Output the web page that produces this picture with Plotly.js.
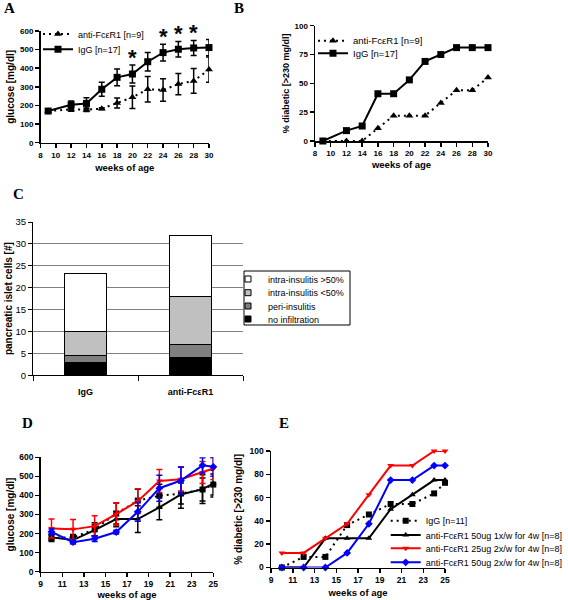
<!DOCTYPE html>
<html><head><meta charset="utf-8">
<script src="https://cdn.plot.ly/plotly-3.0.1.min.js"></script>
<style>html,body{margin:0;padding:0;background:#fff;}#chart{width:568px;height:600px;}</style>
</head><body><div id="chart"></div>
<script>
// ---------- DATA ----------
// Panel A: blood glucose
const weeksA = [9, 12, 14, 16, 18, 20, 22, 24, 26, 28, 30];
const igGGlucoseA = [170, 204, 211, 287, 351, 369, 435, 484, 502, 509, 511];
const igGGlucoseErrA = [0, 20, 30, 38, 45, 48, 50, 45, 42, 40, 44];
const antiGlucoseA = [170, 179, 177, 183, 213, 244, 287, 283, 315, 332, 393];
const antiGlucoseErrA = [0, 10, 10, 5, 27, 60, 68, 60, 57, 66, 68];
const sigWeeksA = [20, 24, 26, 28];
// Panel B: % diabetic
const igGDiabeticB = [0, 9, 13, 41, 41, 53, 69, 75, 81, 81, 81];
const antiDiabeticB = [0, 0, 0, 11, 22, 22, 22, 33, 44, 44, 55];
const seriesNamesAB = ['anti-FcεR1 [n=9]', 'IgG [n=17]'];
// Panel C: islet infiltration
const groupsC = ['IgG', 'anti-FcεR1'];
const noInfiltration = [2.9, 4.0];
const periInsulitis = [1.7, 3.0];
const intraBelow50 = [5.5, 11.0];
const intraAbove50 = [13.2, 14.0];
const stackNamesC = ['no infiltration', 'peri-insulitis', 'intra-insulitis <50%', 'intra-insulitis >50%'];
// Panel D: glucose, dosing study
const weeksD = [10, 12, 14, 16, 18, 20, 22, 24, 25];
const igGGlucoseD = [178, 180, 222, 305, 373, 398, 410, 431, 457];
const igGGlucoseErrD = [20, 15, 35, 55, 60, 60, 55, 60, 55];
const anti50x1GlucoseD = [180, 166, 218, 276, 276, 337, 405, 433, 462];
const anti50x1GlucoseErrD = [15, 15, 30, 40, 70, 65, 72, 75, 70];
const anti25x2GlucoseD = [227, 222, 239, 302, 370, 476, 485, 520, 541];
const anti25x2GlucoseErrD = [50, 52, 54, 60, 65, 60, 65, 58, 58];
const anti50x2GlucoseD = [209, 155, 173, 208, 314, 438, 478, 558, 550];
const anti50x2GlucoseErrD = [15, 10, 15, 10, 50, 68, 70, 40, 49];
// Panel E: % diabetic, dosing study
const igGDiabeticE = [0, 9.1, 9.1, 36.4, 45.5, 54.5, 54.5, 63.6, 72.7];
const anti50x1DiabeticE = [0, 0, 25, 25, 25, 50, 62.5, 75, 75];
const anti25x2DiabeticE = [12.5, 12.5, 25, 37.5, 62.5, 87.5, 87.5, 100, 100];
const anti50x2DiabeticE = [0, 0, 0, 12.5, 37.5, 75, 75, 87.5, 87.5];
const seriesNamesE = ['IgG [n=11]', 'anti-FcεR1 50ug 1x/w for 4w [n=8]', 'anti-FcεR1 25ug 2x/w for 4w [n=8]', 'anti-FcεR1 50ug 2x/w for 4w [n=8]'];

// ---------- HELPERS ----------
const F = 'Liberation Sans, Arial, sans-serif';
const SERIF = 'Liberation Serif, Times New Roman, serif';
const W = 568, H = 600;
const dx = (a, b) => [a / W, b / W];
const dy = (top, bottom) => [1 - bottom / H, 1 - top / H];
const lx = p => p / W, ly = p => 1 - p / H;
const DOT = '2px,4px';
const RED = '#ff0000', BLUE = '#0000ff';

function axis(o) {
  return Object.assign({
    showline: true, linecolor: '#000', linewidth: 1.5, ticks: 'outside', ticklen: 4, tickwidth: 1.5,
    tickcolor: '#000', showgrid: false, zeroline: false, fixedrange: true,
    tickfont: {family: F, size: 8, weight: 'bold', color: '#000'}
  }, o);
}
function ttl(t, standoff, size) {
  return {text: t, standoff: standoff, font: {family: F, size: size || 9.5, weight: 'bold', color: '#000'}};
}
function errs(arr, color) {
  return {type: 'data', array: arr, visible: true, color: color, thickness: 1.5, width: 3};
}
function line(x, y, err, name, color, dash, symbol, xa, ya, legend, msize) {
  const t = {
    type: 'scatter', mode: 'lines+markers', x: x, y: y, name: name,
    line: {color: color, width: 2, dash: dash}, marker: {symbol: symbol, size: msize || 6, color: color},
    xaxis: xa, yaxis: ya, cliponaxis: false, showlegend: !!legend
  };
  if (legend) t.legend = legend;
  if (err) t.error_y = errs(err, color);
  return t;
}
function leg(xp, yp, size) {
  return {x: lx(xp), y: ly(yp), xanchor: 'left', yanchor: 'middle', bgcolor: 'rgba(0,0,0,0)',
          borderwidth: 0, font: {family: F, size: size || 9, color: '#000'}};
}

// ---------- TRACES ----------
const traces = [];
// A
traces.push(line(weeksA, antiGlucoseA, antiGlucoseErrA, seriesNamesAB[0], '#000', DOT, 'triangle-up', 'x', 'y', 'legend', 7));
traces.push(line(weeksA, igGGlucoseA, igGGlucoseErrA, seriesNamesAB[1], '#000', 'solid', 'square', 'x', 'y', 'legend2', 7));
// B
traces.push(line(weeksA, antiDiabeticB, null, seriesNamesAB[0], '#000', DOT, 'triangle-up', 'x2', 'y2', 'legend3', 7));
traces.push(line(weeksA, igGDiabeticB, null, seriesNamesAB[1], '#000', 'solid', 'square', 'x2', 'y2', 'legend4', 7));
// C
const stacksC = [noInfiltration, periInsulitis, intraBelow50, intraAbove50];
const fillsC = ['#000000', '#808080', '#c0c0c0', '#ffffff'];
stacksC.forEach((v, i) => {
  traces.push({type: 'bar', x: groupsC, y: v, width: 0.4, name: stackNamesC[i],
    marker: {color: fillsC[i], line: {color: '#000', width: 1}}, xaxis: 'x3', yaxis: 'y3', showlegend: false});
});
// C legend entries (small square keys)
[3, 2, 1, 0].forEach((i, k) => {
  traces.push({type: 'scatter', mode: 'markers', x: [null], y: [null], name: stackNamesC[i],
    marker: {symbol: 'square', size: 6, color: fillsC[i], line: {color: '#000', width: 1}},
    xaxis: 'x3', yaxis: 'y3', showlegend: true, legend: 'legend' + (5 + k)});
});
// D
traces.push(line(weeksD, igGGlucoseD, igGGlucoseErrD, seriesNamesE[0], '#000', DOT, 'square', 'x4', 'y4', null));
traces.push(line(weeksD, anti50x1GlucoseD, anti50x1GlucoseErrD, seriesNamesE[1], '#000', 'solid', 'triangle-up', 'x4', 'y4', null));
traces.push(line(weeksD, anti25x2GlucoseD, anti25x2GlucoseErrD, seriesNamesE[2], RED, 'solid', 'triangle-down', 'x4', 'y4', null));
traces.push(line(weeksD, anti50x2GlucoseD, anti50x2GlucoseErrD, seriesNamesE[3], BLUE, 'solid', 'diamond', 'x4', 'y4', null));
// E
traces.push(line(weeksD, igGDiabeticE, null, seriesNamesE[0], '#000', DOT, 'square', 'x5', 'y5', 'legend9'));
traces.push(line(weeksD, anti50x1DiabeticE, null, seriesNamesE[1], '#000', 'solid', 'triangle-up', 'x5', 'y5', 'legend10'));
traces.push(line(weeksD, anti25x2DiabeticE, null, seriesNamesE[2], RED, 'solid', 'triangle-down', 'x5', 'y5', 'legend11'));
traces.push(line(weeksD, anti50x2DiabeticE, null, seriesNamesE[3], BLUE, 'solid', 'diamond', 'x5', 'y5', 'legend12'));

// ---------- ANNOTATIONS ----------
const ann = [];
[['A', 9, 8.5], ['B', 238.5, 8], ['C', 18, 194], ['D', 27.5, 422.5], ['E', 284, 422.5]].forEach(p => {
  ann.push({text: p[0], xref: 'paper', yref: 'paper', x: lx(p[1]), y: ly(p[2]), showarrow: false,
    xanchor: 'center', yanchor: 'middle', font: {family: SERIF, size: 15, weight: 'bold', color: '#000'}});
});
sigWeeksA.forEach(w => {
  const i = weeksA.indexOf(w);
  ann.push({text: '*', xref: 'x', yref: 'y', x: w, y: igGGlucoseA[i] + igGGlucoseErrA[i], yshift: 8,
    showarrow: false, xanchor: 'center', yanchor: 'middle', font: {family: F, size: 22, weight: 'bold', color: '#000'}});
});

// ---------- LAYOUT ----------
const layout = {
  width: W, height: H, paper_bgcolor: '#fff', plot_bgcolor: 'rgba(0,0,0,0)',
  margin: {l: 0, r: 0, t: 0, b: 0, autoexpand: false},
  hovermode: false, barmode: 'stack',
  font: {family: F, color: '#000'},
  xaxis: axis({domain: dx(40.5, 209), range: [8, 30], tick0: 8, dtick: 2, anchor: 'y', title: ttl('weeks of age', 5)}),
  yaxis: axis({domain: dy(31, 142.7), range: [0, 600], dtick: 100, anchor: 'x', title: ttl('glucose [mg/dl]', 3, 10)}),
  xaxis2: axis({domain: dx(315, 488), range: [8, 30], tick0: 8, dtick: 2, anchor: 'y2', title: ttl('weeks of age', 4)}),
  yaxis2: axis({domain: dy(25.7, 141), range: [0, 100], dtick: 25, anchor: 'x2', title: ttl('% diabetic [>230 mg/dl]', 3, 9)}),
  xaxis3: {domain: dx(33, 243), type: 'category', range: [-0.5, 1.5], anchor: 'y3', showline: true, linecolor: '#000',
    linewidth: 1, ticks: 'outside', tickson: 'boundaries', ticklen: 5, tickcolor: '#000', tickwidth: 1,
    ticklabelstandoff: 8, showgrid: false, zeroline: false, fixedrange: true,
    tickfont: {family: F, size: 9, weight: 'bold', color: '#000'}},
  yaxis3: {domain: dy(222, 375.3), range: [0, 35], dtick: 5, anchor: 'x3', showline: true, linecolor: '#000',
    linewidth: 1, ticks: 'outside', ticklen: 4, tickcolor: '#000', showgrid: true, gridcolor: '#808080',
    gridwidth: 1, zeroline: false, fixedrange: true, tickfont: {family: F, size: 9.5, color: '#000'},
    title: ttl('pancreatic islet cells [#]', 1, 10)},
  xaxis4: axis({domain: dx(40.7, 213.3), range: [9, 25], tick0: 9, dtick: 2, anchor: 'y4', title: ttl('weeks of age', 3.5),
    tickfont: {family: F, size: 8.5, weight: 'bold', color: '#000'}}),
  yaxis4: axis({domain: dy(457.3, 571.7), range: [0, 600], dtick: 100, anchor: 'x4', title: ttl('glucose [mg/dl]', 3, 10),
    tickfont: {family: F, size: 8.5, weight: 'bold', color: '#000'}}),
  xaxis5: axis({domain: dx(271, 445), range: [9, 25], tick0: 9, dtick: 2, anchor: 'y5', title: ttl('weeks of age', 5),
    tickfont: {family: F, size: 8.5, weight: 'bold', color: '#000'}}),
  yaxis5: axis({domain: dy(451, 567.5), range: [0, 100], dtick: 20, anchor: 'x5', title: ttl('% diabetic [>230 mg/dl]', 5, 10),
    tickfont: {family: F, size: 8.5, weight: 'bold', color: '#000'}}),
  legend: leg(38, 34), legend2: leg(38, 49.3),
  legend3: leg(313, 40.7, 9.5), legend4: leg(313, 53.3, 9.5),
  legend5: leg(228, 279), legend6: leg(228, 292.7), legend7: leg(228, 306), legend8: leg(228, 319),
  legend9: leg(385.7, 520.7), legend10: leg(385.7, 535), legend11: leg(385.7, 548.3), legend12: leg(385.7, 562.3),
  shapes: [{type: 'rect', xref: 'paper', yref: 'paper', x0: lx(244), x1: lx(350), y0: ly(325), y1: ly(271),
    line: {color: '#000', width: 1}, fillcolor: 'rgba(0,0,0,0)'}],
  annotations: ann
};

Plotly.newPlot('chart', traces, layout, {staticPlot: true, displayModeBar: false});
</script></body></html>
